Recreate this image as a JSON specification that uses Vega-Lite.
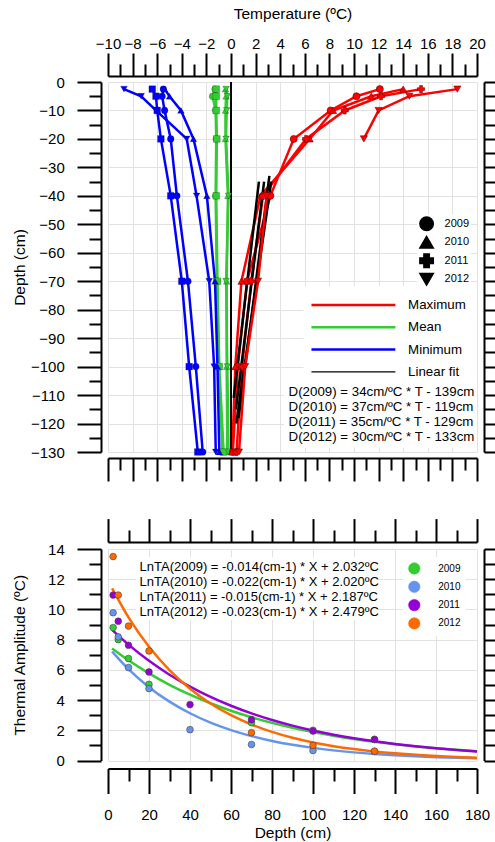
{
"$schema": "https://vega.github.io/schema/vega-lite/v6.json",
"padding": {"left": 11, "top": 6, "right": 0, "bottom": 0},
"spacing": 35,
"config": {
  "font": "Liberation Sans",
  "view": {"stroke": null},
  "axis": {"domainColor": "black", "domainWidth": 2, "tickColor": "black", "tickWidth": 2, "labelColor": "black", "titleColor": "black", "labelFont": "Liberation Sans", "titleFont": "Liberation Sans", "titleFontWeight": "normal", "labelFontSize": 15, "titleFontSize": 15.5, "gridColor": "#e2e2e2", "gridWidth": 1, "labelFlush": false, "labelOverlap": false},
  "legend": {"labelFont": "Liberation Sans", "labelColor": "black"}
},
"resolve": {"scale": {"color": "independent", "shape": "independent", "x": "independent", "y": "independent"}},
"datasets": {
  "profiles": [
    {"k":"Maximum","yr":"2009","d":-2.5,"t":12.1},{"k":"Maximum","yr":"2009","d":-5,"t":10.2},{"k":"Maximum","yr":"2009","d":-10,"t":8.1},{"k":"Maximum","yr":"2009","d":-20,"t":5.1},{"k":"Maximum","yr":"2009","d":-40,"t":3.2},{"k":"Maximum","yr":"2009","d":-70,"t":1.3},{"k":"Maximum","yr":"2009","d":-100,"t":0.55},{"k":"Maximum","yr":"2009","d":-130,"t":0.15},
    {"k":"Maximum","yr":"2010","d":-2.5,"t":14.0},{"k":"Maximum","yr":"2010","d":-5,"t":11.4},{"k":"Maximum","yr":"2010","d":-10,"t":8.3},{"k":"Maximum","yr":"2010","d":-20,"t":6.4},{"k":"Maximum","yr":"2010","d":-40,"t":2.4},{"k":"Maximum","yr":"2010","d":-70,"t":0.85},{"k":"Maximum","yr":"2010","d":-100,"t":0.35},{"k":"Maximum","yr":"2010","d":-130,"t":0.1},
    {"k":"Maximum","yr":"2011","d":-2.5,"t":15.45},{"k":"Maximum","yr":"2011","d":-5,"t":12.2},{"k":"Maximum","yr":"2011","d":-10,"t":9.25},{"k":"Maximum","yr":"2011","d":-20,"t":6.1},{"k":"Maximum","yr":"2011","d":-40,"t":2.6},{"k":"Maximum","yr":"2011","d":-70,"t":1.65},{"k":"Maximum","yr":"2011","d":-100,"t":0.9},{"k":"Maximum","yr":"2011","d":-130,"t":0.45},
    {"k":"Maximum","yr":"2012","d":-2.5,"t":18.4},{"k":"Maximum","yr":"2012","d":-5,"t":14.5},{"k":"Maximum","yr":"2012","d":-10,"t":12.0},{"k":"Maximum","yr":"2012","d":-20,"t":10.8},{"k":"Maximum","yr":"2012","d":-40,"t":2.9},{"k":"Maximum","yr":"2012","d":-70,"t":2.2},{"k":"Maximum","yr":"2012","d":-100,"t":1.15},{"k":"Maximum","yr":"2012","d":-130,"t":0.65},
    {"k":"Mean","yr":"2009","d":-2.5,"t":-1.3},{"k":"Mean","yr":"2009","d":-5,"t":-1.5},{"k":"Mean","yr":"2009","d":-10,"t":-1.25},{"k":"Mean","yr":"2009","d":-20,"t":-1.2},{"k":"Mean","yr":"2009","d":-40,"t":-1.25},{"k":"Mean","yr":"2009","d":-70,"t":-1.15},{"k":"Mean","yr":"2009","d":-100,"t":-1.0},{"k":"Mean","yr":"2009","d":-130,"t":-0.7},
    {"k":"Mean","yr":"2010","d":-2.5,"t":-0.45},{"k":"Mean","yr":"2010","d":-5,"t":-0.4},{"k":"Mean","yr":"2010","d":-10,"t":-0.45},{"k":"Mean","yr":"2010","d":-20,"t":-0.45},{"k":"Mean","yr":"2010","d":-40,"t":-0.25},{"k":"Mean","yr":"2010","d":-70,"t":-0.35},{"k":"Mean","yr":"2010","d":-100,"t":-0.35},{"k":"Mean","yr":"2010","d":-130,"t":-0.3},
    {"k":"Mean","yr":"2011","d":-2.5,"t":-1.2},{"k":"Mean","yr":"2011","d":-5,"t":-1.2},{"k":"Mean","yr":"2011","d":-10,"t":-1.2},{"k":"Mean","yr":"2011","d":-20,"t":-1.15},{"k":"Mean","yr":"2011","d":-40,"t":-1.2},{"k":"Mean","yr":"2011","d":-70,"t":-1.1},{"k":"Mean","yr":"2011","d":-100,"t":-0.95},{"k":"Mean","yr":"2011","d":-130,"t":-0.6},
    {"k":"Mean","yr":"2012","d":-2.5,"t":-0.4},{"k":"Mean","yr":"2012","d":-5,"t":-0.3},{"k":"Mean","yr":"2012","d":-10,"t":-0.35},{"k":"Mean","yr":"2012","d":-20,"t":-0.4},{"k":"Mean","yr":"2012","d":-40,"t":-0.2},{"k":"Mean","yr":"2012","d":-70,"t":-0.4},{"k":"Mean","yr":"2012","d":-100,"t":-0.3},{"k":"Mean","yr":"2012","d":-130,"t":-0.2},
    {"k":"Minimum","yr":"2009","d":-2.5,"t":-5.5},{"k":"Minimum","yr":"2009","d":-5,"t":-5.6},{"k":"Minimum","yr":"2009","d":-10,"t":-5.4},{"k":"Minimum","yr":"2009","d":-20,"t":-4.9},{"k":"Minimum","yr":"2009","d":-40,"t":-4.4},{"k":"Minimum","yr":"2009","d":-70,"t":-3.5},{"k":"Minimum","yr":"2009","d":-100,"t":-2.86},{"k":"Minimum","yr":"2009","d":-130,"t":-2.3},
    {"k":"Minimum","yr":"2010","d":-2.5,"t":-5.4},{"k":"Minimum","yr":"2010","d":-5,"t":-5.0},{"k":"Minimum","yr":"2010","d":-10,"t":-4.07},{"k":"Minimum","yr":"2010","d":-20,"t":-3.05},{"k":"Minimum","yr":"2010","d":-40,"t":-1.96},{"k":"Minimum","yr":"2010","d":-70,"t":-1.3},{"k":"Minimum","yr":"2010","d":-100,"t":-1.1},{"k":"Minimum","yr":"2010","d":-130,"t":-0.95},
    {"k":"Minimum","yr":"2011","d":-2.5,"t":-6.4},{"k":"Minimum","yr":"2011","d":-5,"t":-6.1},{"k":"Minimum","yr":"2011","d":-10,"t":-6.0},{"k":"Minimum","yr":"2011","d":-20,"t":-5.7},{"k":"Minimum","yr":"2011","d":-40,"t":-4.9},{"k":"Minimum","yr":"2011","d":-70,"t":-4.0},{"k":"Minimum","yr":"2011","d":-100,"t":-3.4},{"k":"Minimum","yr":"2011","d":-130,"t":-2.7},
    {"k":"Minimum","yr":"2012","d":-2.5,"t":-8.7},{"k":"Minimum","yr":"2012","d":-5,"t":-7.3},{"k":"Minimum","yr":"2012","d":-10,"t":-6.1},{"k":"Minimum","yr":"2012","d":-20,"t":-3.6},{"k":"Minimum","yr":"2012","d":-40,"t":-2.8},{"k":"Minimum","yr":"2012","d":-70,"t":-1.77},{"k":"Minimum","yr":"2012","d":-100,"t":-1.37},{"k":"Minimum","yr":"2012","d":-130,"t":-1.24},
    {"k":"Linear fit","yr":"2009","d":-33,"t":3.12},{"k":"Linear fit","yr":"2009","d":-118,"t":0.62},
    {"k":"Linear fit","yr":"2010","d":-35,"t":2.27},{"k":"Linear fit","yr":"2010","d":-111,"t":0.22},
    {"k":"Linear fit","yr":"2011","d":-35,"t":2.69},{"k":"Linear fit","yr":"2011","d":-115,"t":0.40},
    {"k":"Linear fit","yr":"2012","d":-35,"t":3.27},{"k":"Linear fit","yr":"2012","d":-120,"t":0.43}
  ],
  "ta": [
    {"yr":"2009","x":2.5,"v":8.8},{"yr":"2009","x":5,"v":8.0},{"yr":"2009","x":10,"v":6.75},{"yr":"2009","x":20,"v":5.04},{"yr":"2009","x":70,"v":2.5},{"yr":"2009","x":100,"v":2.0},{"yr":"2009","x":130,"v":1.4},
    {"yr":"2010","x":2.5,"v":9.78},{"yr":"2010","x":5,"v":8.18},{"yr":"2010","x":10,"v":6.15},{"yr":"2010","x":20,"v":4.76},{"yr":"2010","x":40,"v":2.04},{"yr":"2010","x":70,"v":1.06},{"yr":"2010","x":100,"v":0.66},{"yr":"2010","x":130,"v":0.6},
    {"yr":"2011","x":2.5,"v":10.95},{"yr":"2011","x":5,"v":9.22},{"yr":"2011","x":10,"v":7.63},{"yr":"2011","x":20,"v":5.86},{"yr":"2011","x":40,"v":3.7},{"yr":"2011","x":70,"v":2.7},{"yr":"2011","x":100,"v":1.95},{"yr":"2011","x":130,"v":1.39},
    {"yr":"2012","x":2.5,"v":13.5},{"yr":"2012","x":5,"v":10.95},{"yr":"2012","x":10,"v":8.9},{"yr":"2012","x":20,"v":7.25},{"yr":"2012","x":70,"v":1.84},{"yr":"2012","x":100,"v":1.0},{"yr":"2012","x":130,"v":0.62}
  ],
  "curves": [
    {"yr":"2009","x":2,"v":7.419},{"yr":"2009","x":10,"v":6.633},{"yr":"2009","x":20,"v":5.766},{"yr":"2009","x":30,"v":5.013},{"yr":"2009","x":40,"v":4.358},{"yr":"2009","x":50,"v":3.789},{"yr":"2009","x":60,"v":3.294},{"yr":"2009","x":70,"v":2.863},{"yr":"2009","x":80,"v":2.489},{"yr":"2009","x":90,"v":2.164},{"yr":"2009","x":100,"v":1.881},{"yr":"2009","x":110,"v":1.636},{"yr":"2009","x":120,"v":1.422},{"yr":"2009","x":130,"v":1.236},{"yr":"2009","x":140,"v":1.075},{"yr":"2009","x":150,"v":0.934},{"yr":"2009","x":160,"v":0.812},{"yr":"2009","x":170,"v":0.706},{"yr":"2009","x":180,"v":0.614},
    {"yr":"2010","x":2,"v":7.214},{"yr":"2010","x":10,"v":6.050},{"yr":"2010","x":20,"v":4.855},{"yr":"2010","x":30,"v":3.896},{"yr":"2010","x":40,"v":3.127},{"yr":"2010","x":50,"v":2.509},{"yr":"2010","x":60,"v":2.014},{"yr":"2010","x":70,"v":1.616},{"yr":"2010","x":80,"v":1.297},{"yr":"2010","x":90,"v":1.041},{"yr":"2010","x":100,"v":0.835},{"yr":"2010","x":110,"v":0.670},{"yr":"2010","x":120,"v":0.538},{"yr":"2010","x":130,"v":0.432},{"yr":"2010","x":140,"v":0.346},{"yr":"2010","x":150,"v":0.278},{"yr":"2010","x":160,"v":0.223},{"yr":"2010","x":170,"v":0.179},{"yr":"2010","x":180,"v":0.144},
    {"yr":"2011","x":2,"v":8.645},{"yr":"2011","x":10,"v":7.668},{"yr":"2011","x":20,"v":6.600},{"yr":"2011","x":30,"v":5.680},{"yr":"2011","x":40,"v":4.889},{"yr":"2011","x":50,"v":4.208},{"yr":"2011","x":60,"v":3.622},{"yr":"2011","x":70,"v":3.117},{"yr":"2011","x":80,"v":2.683},{"yr":"2011","x":90,"v":2.309},{"yr":"2011","x":100,"v":1.988},{"yr":"2011","x":110,"v":1.711},{"yr":"2011","x":120,"v":1.473},{"yr":"2011","x":130,"v":1.267},{"yr":"2011","x":140,"v":1.091},{"yr":"2011","x":150,"v":0.939},{"yr":"2011","x":160,"v":0.808},{"yr":"2011","x":170,"v":0.696},{"yr":"2011","x":180,"v":0.599},
    {"yr":"2012","x":2,"v":11.393},{"yr":"2012","x":10,"v":9.478},{"yr":"2012","x":20,"v":7.531},{"yr":"2012","x":30,"v":5.983},{"yr":"2012","x":40,"v":4.754},{"yr":"2012","x":50,"v":3.777},{"yr":"2012","x":60,"v":3.001},{"yr":"2012","x":70,"v":2.385},{"yr":"2012","x":80,"v":1.895},{"yr":"2012","x":90,"v":1.505},{"yr":"2012","x":100,"v":1.196},{"yr":"2012","x":110,"v":0.950},{"yr":"2012","x":120,"v":0.755},{"yr":"2012","x":130,"v":0.600},{"yr":"2012","x":140,"v":0.477},{"yr":"2012","x":150,"v":0.379},{"yr":"2012","x":160,"v":0.301},{"yr":"2012","x":170,"v":0.239},{"yr":"2012","x":180,"v":0.190}
  ]
},
"vconcat": [
{
  "width": 369, "height": 370,
  "resolve": {"axis": {"x": "independent", "y": "independent"}, "scale": {"shape": "independent"}},
  "layer": [
    {
      "data": {"values": [{}]},
      "mark": {"type": "rect", "fill": "white"},
      "encoding": {
        "x": {"datum": 5.9, "type": "quantitative", "scale": {"domain": [-10, 20], "nice": false, "zero": false}, "axis": null},
        "x2": {"datum": 20},
        "y": {"datum": -71.8, "type": "quantitative", "scale": {"domain": [-130, 0], "nice": false, "zero": false}, "axis": null},
        "y2": {"datum": -106}
      }
    },
    {
      "data": {"values": [{}]},
      "mark": {"type": "rect", "fill": "white"},
      "encoding": {
        "x": {"datum": 4.3, "type": "quantitative", "scale": {"domain": [-10, 20], "nice": false, "zero": false}, "axis": null},
        "x2": {"datum": 20},
        "y": {"datum": -106, "type": "quantitative", "scale": {"domain": [-130, 0], "nice": false, "zero": false}, "axis": null},
        "y2": {"datum": -128.5}
      }
    },
    {
      "data": {"name": "profiles"},
      "transform": [{"filter": "!(datum.k === 'Maximum' && datum.yr === '2012' && datum.d < -20)"}],
      "mark": {"type": "line", "strokeWidth": 2.5},
      "encoding": {
        "x": {"field": "t", "type": "quantitative", "scale": {"domain": [-10, 20], "nice": false, "zero": false},
              "axis": {"orient": "top", "offset": 6, "values": [-10,-8,-6,-4,-2,0,2,4,6,8,10,12,14,16,18,20], "tickSize": 23, "labelPadding": 1.5, "title": "Temperature (ºC)", "titleBaseline": "alphabetic", "titleY": -58, "grid": true}},
        "y": {"field": "d", "type": "quantitative", "scale": {"domain": [-130, 0], "nice": false, "zero": false},
              "axis": {"orient": "left", "offset": 7, "values": [0,-10,-20,-30,-40,-50,-60,-70,-80,-90,-100,-110,-120,-130], "tickSize": 24, "labelPadding": 12.7, "title": "Depth (cm)", "titleBaseline": "alphabetic", "titleX": -77, "grid": true}},
        "color": {"field": "k", "type": "nominal",
                  "scale": {"domain": ["Maximum", "Mean", "Minimum", "Linear fit"], "range": ["#ff0000", "#33cc33", "#0000ff", "#000000"]},
                  "legend": {"orient": "none", "legendX": 196.8, "legendY": 216.3, "title": null, "symbolType": "M0,0H16", "symbolSize": 110, "symbolStrokeWidth": 2.5, "labelFontSize": 13.3, "labelOffset": 90, "rowPadding": 8.3, "padding": 0,
                             "encode": {"symbols": {"update": {
                               "stroke": {"signal": "datum.value === 'Linear fit' ? '#8c8c8c' : datum.value === 'Maximum' ? '#ff0000' : datum.value === 'Mean' ? '#33cc33' : '#0000ff'"},
                               "strokeWidth": {"signal": "datum.value === 'Linear fit' ? 1.2 : 2.5"},
                               "fill": {"value": "transparent"}}}}}},
        "detail": {"field": "yr"},
        "order": {"field": "d", "sort": "descending"}
      }
    },
    {
      "data": {"name": "profiles"},
      "transform": [{"filter": "datum.k === 'Maximum' && datum.yr === '2012' && datum.d < -20"}],
      "mark": {"type": "line", "strokeWidth": 2.5, "color": "#ff0000"},
      "encoding": {
        "x": {"field": "t", "type": "quantitative", "scale": {"domain": [-10, 20], "nice": false, "zero": false}, "axis": null},
        "y": {"field": "d", "type": "quantitative", "scale": {"domain": [-130, 0], "nice": false, "zero": false}, "axis": null},
        "order": {"field": "d", "sort": "descending"}
      }
    },
    {
      "data": {"values": [{}]},
      "mark": {"type": "rule", "strokeWidth": 2, "color": "black"},
      "encoding": {
        "x": {"datum": 0, "type": "quantitative", "scale": {"domain": [-10, 20], "nice": false, "zero": false},
              "axis": {"orient": "bottom", "offset": 6, "values": [-9,-7,-5,-3,-1,1,3,5,7,9,11,13,15,17,19], "tickSize": 12, "labels": false, "domain": false, "grid": false, "title": null}}
      }
    },
    {
      "data": {"name": "profiles"},
      "transform": [{"filter": "datum.k === 'Mean' || datum.k === 'Minimum'"}],
      "mark": {"type": "point", "filled": true, "size": 45, "opacity": 1, "stroke": "rgba(0,0,0,0.35)", "strokeWidth": 0.6},
      "encoding": {
        "x": {"field": "t", "type": "quantitative", "scale": {"domain": [-10, 20], "nice": false, "zero": false},
              "axis": {"orient": "bottom", "offset": 6, "values": [-10,-8,-6,-4,-2,0,2,4,6,8,10,12,14,16,18,20], "tickSize": 23, "labels": false, "grid": false, "title": null}},
        "y": {"field": "d", "type": "quantitative", "scale": {"domain": [-130, 0], "nice": false, "zero": false},
              "axis": {"orient": "right", "offset": 7, "values": [0,-5,-10,-15,-20,-25,-30,-35,-40,-45,-50,-55,-60,-65,-70,-75,-80,-85,-90,-95,-100,-105,-110,-115,-120,-125,-130], "tickSize": 12, "labels": false, "grid": false, "title": null}},
        "color": {"field": "k", "type": "nominal", "legend": null},
        "shape": {"field": "yr", "type": "nominal", "scale": {"domain": ["2009", "2010", "2011", "2012"], "range": ["circle", "triangle-up", "square", "triangle-down"]}, "legend": null}
      }
    },
    {
      "data": {"name": "profiles"},
      "transform": [{"filter": "datum.k === 'Maximum'"}],
      "mark": {"type": "point", "filled": true, "size": 50, "opacity": 1, "stroke": "#700000", "strokeWidth": 0.6},
      "encoding": {
        "x": {"field": "t", "type": "quantitative", "scale": {"domain": [-10, 20], "nice": false, "zero": false},
              "axis": {"orient": "top", "offset": 6, "values": [-9,-7,-5,-3,-1,1,3,5,7,9,11,13,15,17,19], "tickSize": 12, "labels": false, "domain": false, "grid": false, "title": null}},
        "y": {"field": "d", "type": "quantitative", "scale": {"domain": [-130, 0], "nice": false, "zero": false},
              "axis": {"orient": "left", "offset": 7, "values": [-5,-15,-25,-35,-45,-55,-65,-75,-85,-95,-105,-115,-125], "tickSize": 12, "labels": false, "domain": false, "grid": false, "title": null}},
        "color": {"field": "k", "type": "nominal", "legend": null},
        "shape": {"field": "yr", "type": "nominal", "scale": {"domain": ["2009", "2010", "2011", "2012"], "range": ["circle", "triangle-up", "cross", "triangle-down"]},
                  "legend": {"orient": "none", "legendX": 309.1, "legendY": 132.3, "title": null, "padding": 2, "fillColor": "white", "labelFontSize": 11, "labelOffset": 10.5, "rowPadding": -1.5, "symbolSize": 180, "symbolFillColor": "black", "symbolStrokeColor": "black"}}
      }
    },
    {
      "data": {"values": [{}]},
      "mark": {"type": "text", "align": "left", "baseline": "top", "fontSize": 13.3, "lineHeight": 15, "color": "black",
               "text": ["D(2009) = 34cm/ºC * T - 139cm", "D(2010) = 37cm/ºC * T - 119cm", "D(2011) = 35cm/ºC * T - 129cm", "D(2012) = 30cm/ºC * T - 133cm"]},
      "encoding": {
        "x": {"datum": 4.68, "type": "quantitative", "scale": {"domain": [-10, 20], "nice": false, "zero": false}, "axis": null},
        "y": {"datum": -106.5, "type": "quantitative", "scale": {"domain": [-130, 0], "nice": false, "zero": false}, "axis": null}
      }
    }
  ]
},
{
  "width": 369, "height": 211.5,
  "resolve": {"axis": {"x": "independent", "y": "independent"}},
  "layer": [
    {
      "data": {"values": [{}]},
      "mark": {"type": "rect", "fill": "white"},
      "encoding": {
        "x": {"datum": 13.8, "type": "quantitative", "scale": {"domain": [0, 180], "nice": false},
              "axis": {"orient": "bottom", "offset": 8, "values": [10,30,50,70,90,110,130,150,170], "tickSize": 12.5, "labels": false, "domain": false, "grid": false, "title": null}},
        "x2": {"datum": 131.7},
        "y": {"datum": 9.3, "type": "quantitative", "scale": {"domain": [0, 14], "nice": false}, "axis": null},
        "y2": {"datum": 13.45}
      }
    },
    {
      "data": {"name": "curves"},
      "mark": {"type": "line", "strokeWidth": 2.5, "interpolate": "monotone"},
      "encoding": {
        "x": {"field": "x", "type": "quantitative", "scale": {"domain": [0, 180], "nice": false},
              "axis": {"orient": "bottom", "offset": 8, "values": [0,20,40,60,80,100,120,140,160,180], "tickSize": 25, "labelPadding": 14, "title": "Depth (cm)", "titleBaseline": "alphabetic", "titleY": 69, "grid": true}},
        "y": {"field": "v", "type": "quantitative", "scale": {"domain": [0, 14], "nice": false},
              "axis": {"orient": "left", "offset": 7, "values": [0,2,4,6,8,10,12,14], "tickSize": 24, "labelPadding": 12.7, "title": "Thermal Amplitude (ºC)", "titleBaseline": "alphabetic", "titleX": -77, "grid": true}},
        "color": {"field": "yr", "type": "nominal", "scale": {"domain": ["2009", "2010", "2011", "2012"], "range": ["#33cc33", "#6495ed", "#9400d3", "#ff6a00"]}},
        "detail": {"field": "yr"}
      }
    },
    {
      "data": {"name": "ta"},
      "mark": {"type": "circle", "size": 45, "opacity": 1, "stroke": "#444444", "strokeWidth": 0.6},
      "encoding": {
        "x": {"field": "x", "type": "quantitative", "scale": {"domain": [0, 180], "nice": false},
              "axis": {"orient": "top", "offset": 7, "values": [0,20,40,60,80,100,120,140,160,180], "tickSize": 23.4, "labels": false, "grid": false, "title": null}},
        "y": {"field": "v", "type": "quantitative", "scale": {"domain": [0, 14], "nice": false},
              "axis": {"orient": "left", "offset": 7, "values": [1,3,5,7,9,11,13], "tickSize": 12, "labels": false, "domain": false, "grid": false, "title": null}},
        "color": {"field": "yr", "type": "nominal",
                  "legend": {"orient": "none", "legendX": 294.8, "legendY": 8, "title": null, "fillColor": "white", "padding": 5, "symbolType": "circle", "symbolSize": 130, "symbolStrokeColor": "#444444", "symbolStrokeWidth": 0.6, "symbolOpacity": 1, "labelFontSize": 10, "labelOffset": 17.4, "rowPadding": 3.3}}
      }
    },
    {
      "data": {"values": [{}]},
      "mark": {"type": "text", "align": "left", "baseline": "top", "fontSize": 13, "lineHeight": 15, "color": "black",
               "text": ["LnTA(2009) = -0.014(cm-1) * X + 2.032ºC", "LnTA(2010) = -0.022(cm-1) * X + 2.020ºC", "LnTA(2011) = -0.015(cm-1) * X + 2.187ºC", "LnTA(2012) = -0.023(cm-1) * X + 2.479ºC"]},
      "encoding": {
        "x": {"datum": 15.4, "type": "quantitative", "scale": {"domain": [0, 180], "nice": false},
              "axis": {"orient": "top", "offset": 7, "values": [10,30,50,70,90,110,130,150,170], "tickSize": 12, "labels": false, "domain": false, "grid": false, "title": null}},
        "y": {"datum": 13.23, "type": "quantitative", "scale": {"domain": [0, 14], "nice": false},
              "axis": {"orient": "right", "offset": 7, "values": [0,1,2,3,4,5,6,7,8,9,10,11,12,13,14], "tickSize": 12, "labels": false, "grid": false, "title": null}}
      }
    }
  ]
}
]
}
